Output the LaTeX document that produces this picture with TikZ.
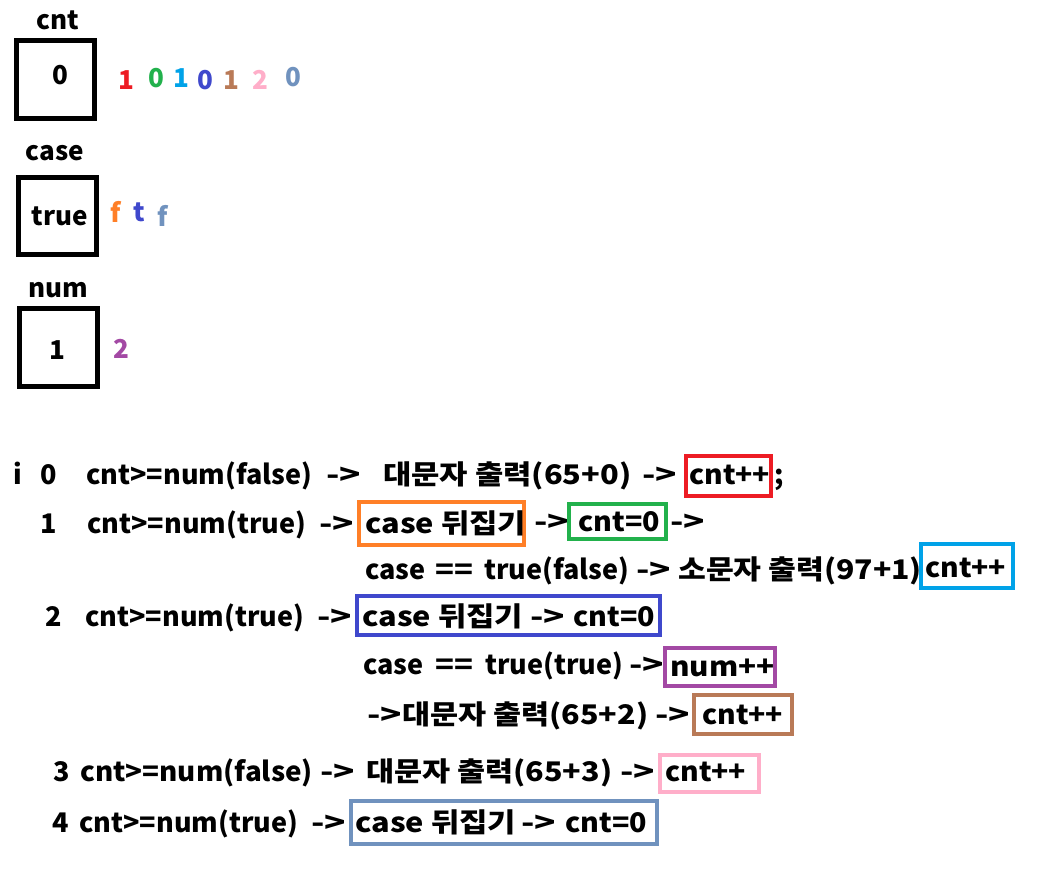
\documentclass[tikz,border=0pt]{standalone}
\usepackage{graphicx}
\usepackage{fontspec}
\setmainfont{Noto Sans CJK KR}
\definecolor{pRed}{HTML}{ED1C24}
\definecolor{pGreen}{HTML}{22B14C}
\definecolor{pCyan}{HTML}{00A2E8}
\definecolor{pBlue}{HTML}{3F48CC}
\definecolor{pBrown}{HTML}{B97A57}
\definecolor{pPink}{HTML}{FFAEC9}
\definecolor{pSteel}{HTML}{7092BE}
\definecolor{pOrange}{HTML}{FF7F27}
\definecolor{pPurple}{HTML}{A349A4}
\newcommand\sx[2]{\scalebox{#1}[1]{#2}}
\newcommand\arr{\sx{1.3}{->}}
\tikzset{
  txt/.style={font=\bfseries\fontsize{27}{27}\selectfont, inner sep=0pt, anchor=base west},
  ctxt/.style={font=\bfseries\fontsize{26}{26}\selectfont, inner sep=0pt},
  regbox/.style={draw, line width=5pt, minimum width=78pt, minimum height=78pt, inner sep=0pt},
  hlbox/.style={draw=#1, line width=4pt, inner sep=0pt}
}
\begin{document}
\begin{tikzpicture}[x=1pt,y=-1pt]
\useasboundingbox (0,0) rectangle (1044,877);

%% les trois cases memoire
\node[ctxt] (cntlbl) at (58,20) {cnt};
\node[regbox] (cntbox) at (55.5,79.5) {};
\node[ctxt] (cntval) at (60,75) {0};
\node[ctxt] (caselbl) at (55,153) {case};
\node[regbox, minimum height=77pt] (casebox) at (57.5,216) {};
\node[ctxt] (caseval) at (60,216) {true};
\node[ctxt] (numlbl) at (58,290) {num};
\node[regbox] (numbox) at (58.5,347.5) {};
\node[ctxt] (numval) at (57,350) {1};

%% valeurs successives
\node[ctxt, text=pRed] (c1) at (126,80) {1};
\node[ctxt, text=pGreen] (c2) at (156,78) {0};
\node[ctxt, text=pCyan] (c3) at (181,78) {1};
\node[ctxt, text=pBlue] (c4) at (205,80) {0};
\node[ctxt, text=pBrown] (c5) at (231,80) {1};
\node[ctxt, text=pPink] (c6) at (260,80) {2};
\node[ctxt, text=pSteel] (c7) at (293,77) {0};
\node[ctxt, text=pOrange] (s1) at (116,212) {f};
\node[ctxt, text=pBlue] (s2) at (139,212) {t};
\node[ctxt, text=pSteel] (s3) at (163,216) {f};
\node[ctxt, text=pPurple] (n1) at (121,349) {2};

%% les cadres de couleur
\node[hlbox=pRed, minimum width=85pt, minimum height=40pt] (r0box) at (728.5,476) {};
\node[hlbox=pOrange, minimum width=165pt, minimum height=43pt] (r1box) at (441.5,523.5) {};
\node[hlbox=pGreen, minimum width=97pt, minimum height=35pt] (r1zero) at (617.5,521.5) {};
\node[hlbox=pCyan, minimum width=92pt, minimum height=44pt] (r1inc) at (967,566) {};
\node[hlbox=pBlue, minimum width=303pt, minimum height=39pt] (r2box) at (508.5,615.5) {};
\node[hlbox=pPurple, minimum width=110pt, minimum height=38pt] (r2num) at (720,667) {};
\node[hlbox=pBrown, minimum width=98pt, minimum height=39pt] (r2inc) at (743,714.5) {};
\node[hlbox=pPink, minimum width=99pt, minimum height=37pt] (r3box) at (709.5,773.5) {};
\node[hlbox=pSteel, minimum width=306pt, minimum height=43pt] (r4box) at (504,822.5) {};

%% i = 0
\node[txt] (i) at (13,484) {i};
\node[txt] (i0) at (40,484) {0};
\node[txt] (r0a) at (86,484) {cnt>=num(false)};
\node[txt] (r0b) at (326,484) {\arr};
\node[txt] (r0c) at (383,484) {\sx{1.14}{대문자 출력(65+0)}};
\node[txt] (r0d) at (642,484) {\arr};
\node[txt] (r0e) at (689,484) {\sx{1.05}{cnt++}};
\node[txt] (r0f) at (774,484) {;};

%% i = 1
\node[txt] (i1) at (40,533) {1};
\node[txt] (r1a) at (87,533) {cnt>=num(true)};
\node[txt] (r1b) at (319,533) {\arr};
\node[txt] (r1c) at (365,533) {\sx{1.14}{case 뒤집기}};
\node[txt] (r1d) at (534,531) {\arr};
\node[txt] (r1e) at (578,531) {\sx{1.06}{cnt=0}};
\node[txt] (r1f) at (670,531) {\arr};
\node[txt] (r1g) at (365,579) {case};
\node[txt] (r1h) at (435,579) {\sx{1.15}{==}};
\node[txt] (r1i) at (484,579) {true(false)};
\node[txt] (r1j) at (636,579) {\arr};
\node[txt] (r1k) at (678,579) {\sx{1.12}{소문자 출력(97+1)}};
\node[txt] (r1l) at (925,577) {\sx{1.05}{cnt++}};

%% i = 2
\node[txt] (i2) at (45,626) {2};
\node[txt] (r2a) at (85,626) {cnt>=num(true)};
\node[txt] (r2b) at (317,626) {\arr};
\node[txt] (r2c) at (362,626) {\sx{1.14}{case 뒤집기}};
\node[txt] (r2d) at (530,626) {\arr};
\node[txt] (r2e) at (573,626) {\sx{1.06}{cnt=0}};
\node[txt] (r2f) at (363,674) {case};
\node[txt] (r2g) at (435,674) {\sx{1.15}{==}};
\node[txt] (r2h) at (485,674) {true(true)};
\node[txt] (r2i) at (629,674) {\arr};
\node[txt] (r2j) at (670,676) {\sx{1.1}{num++}};
\node[txt] (r2k) at (367,724) {\arr};
\node[txt] (r2l) at (402,724) {\sx{1.13}{대문자 출력(65+2)}};
\node[txt] (r2m) at (655,724) {\arr};
\node[txt] (r2n) at (702,724) {\sx{1.05}{cnt++}};

%% i = 3 et 4
\node[txt] (i3) at (53,781) {3};
\node[txt] (r3a) at (80,781) {\sx{1.03}{cnt>=num(false)}};
\node[txt] (r3b) at (320,781) {\arr};
\node[txt] (r3c) at (366,781) {\sx{1.13}{대문자 출력(65+3)}};
\node[txt] (r3d) at (620,781) {\arr};
\node[txt] (r3e) at (665,781) {\sx{1.05}{cnt++}};
\node[txt] (i4) at (52,832) {4};
\node[txt] (r4a) at (79,832) {cnt>=num(true)};
\node[txt] (r4b) at (311,832) {\arr};
\node[txt] (r4c) at (355,832) {\sx{1.14}{case 뒤집기}};
\node[txt] (r4d) at (521,832) {\arr};
\node[txt] (r4e) at (565,832) {\sx{1.06}{cnt=0}};

\end{tikzpicture}
\end{document}
